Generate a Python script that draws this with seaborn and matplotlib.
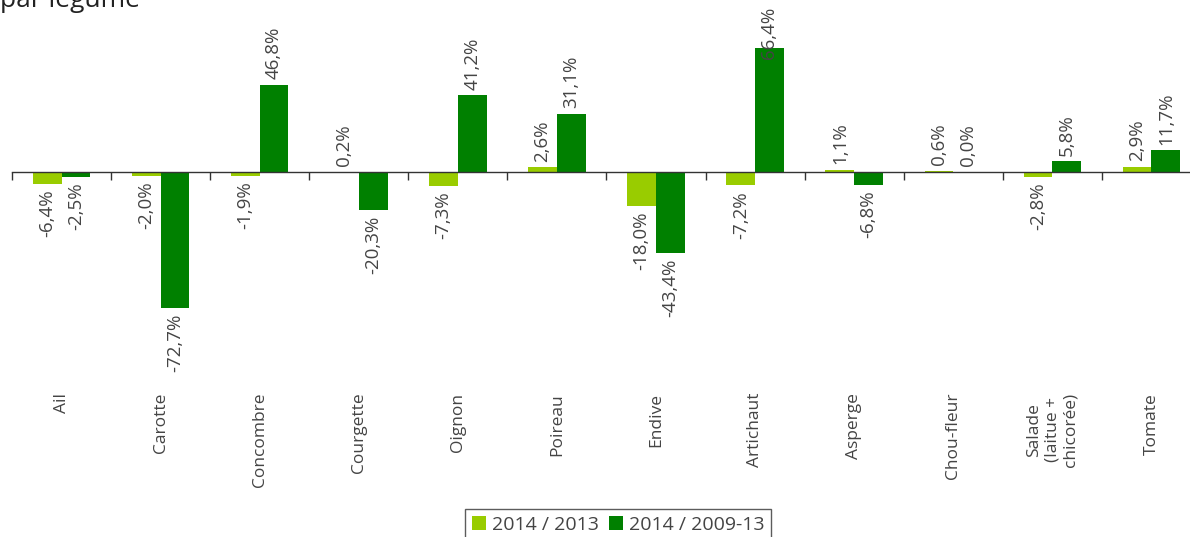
import numpy as np
import pandas as pd
import seaborn as sns
import matplotlib.pyplot as plt

# données
legumes = ['Ail', 'Carotte', 'Concombre', 'Courgette', 'Oignon', 'Poireau',
           'Endive', 'Artichaut', 'Asperge', 'Chou-fleur',
           'Salade\n(laitue +\nchicorée)', 'Tomate']
periodes = ['2014 / 2013', '2014 / 2009-13']
evol_2013 = [-6.4, -2.0, -1.9, 0.2, -7.3, 2.6, -18.0, -7.2, 1.1, 0.6, -2.8, 2.9]
evol_2009_13 = [-2.5, -72.7, 46.8, -20.3, 41.2, 31.1, -43.4, 66.4, -6.8, 0.0, 5.8, 11.7]

df = pd.DataFrame({
    'legume': legumes * 2,
    'valeur': evol_2013 + evol_2009_13,
    'periode': [periodes[0]] * len(legumes) + [periodes[1]] * len(legumes),
})

sns.set_style('white')
plt.rcParams['font.family'] = ['Open Sans', 'DejaVu Sans']

W, H = 1190, 537
fig = plt.figure(figsize=(W / 100, H / 100), dpi=100)
ymin, ymax = -80, 75
pxu = 1.867
top_px = 172 - ymax * pxu
bot_px = 172 - ymin * pxu
ax = fig.add_axes([12 / W, 1 - bot_px / H, 1189 / W, (bot_px - top_px) / H])

sns.barplot(data=df, x='legume', y='valeur', hue='periode',
            palette=['#99cc00', '#008000'], width=0.58, saturation=1,
            linewidth=0, ax=ax)

ax.set_xlim(-0.5, 11.5)
ax.set_ylim(ymin, ymax)
ax.set_xlabel('')
ax.set_ylabel('')
ax.set_yticks([])
for s in ['top', 'left', 'right']:
    ax.spines[s].set_visible(False)
ax.spines['bottom'].set_position(('data', 0))
ax.spines['bottom'].set_color('#333333')
ax.spines['bottom'].set_linewidth(1)
ax.set_xticks(np.arange(-0.5, 12, 1), minor=True)
ax.tick_params(axis='x', which='minor', length=6, width=1, color='#333333',
               direction='out', bottom=True)
ax.tick_params(axis='x', which='major', length=0, pad=159)
ax.set_xticks(range(len(legumes)))
ax.set_xticklabels(legumes, rotation=90, ha='center', va='top',
                   multialignment='center', fontsize=12.5, color='#444444')

# étiquettes des barres
for cont, vals in zip(ax.containers, [evol_2013, evol_2009_13]):
    for bar, v in zip(cont, vals):
        xc = bar.get_x() + bar.get_width() / 2
        txt = f'{v:.1f}'.replace('.', ',') + '%'
        if v >= 0:
            ax.annotate(txt, (xc, min(v, 57.5)), xytext=(0, 4),
                        textcoords='offset points', rotation=90,
                        ha='center', va='bottom', fontsize=13.5,
                        color='#444444', annotation_clip=False)
        else:
            ax.annotate(txt, (xc, v), xytext=(0, -4),
                        textcoords='offset points', rotation=90,
                        ha='center', va='top', fontsize=13.5,
                        color='#444444', annotation_clip=False)

handles, labels = ax.get_legend_handles_labels()
ax.get_legend().remove()
leg = fig.legend(handles, labels, loc='upper center',
                 bbox_to_anchor=(618 / W, 1 - 509 / H), ncol=2,
                 frameon=True, fancybox=False, edgecolor='#333333',
                 handlelength=0.75, handleheight=0.75, handletextpad=0.3,
                 columnspacing=0.5, borderpad=0.35, fontsize=14,
                 borderaxespad=0)
leg.get_frame().set_linewidth(1)
for t in leg.get_texts():
    t.set_color('#444444')

# titre coupé en haut
fig.text(0, 1 - 7 / H, 'par légume', fontsize=19, color='#222222',
         ha='left', va='baseline')

fig.savefig('out.png', dpi=100)
